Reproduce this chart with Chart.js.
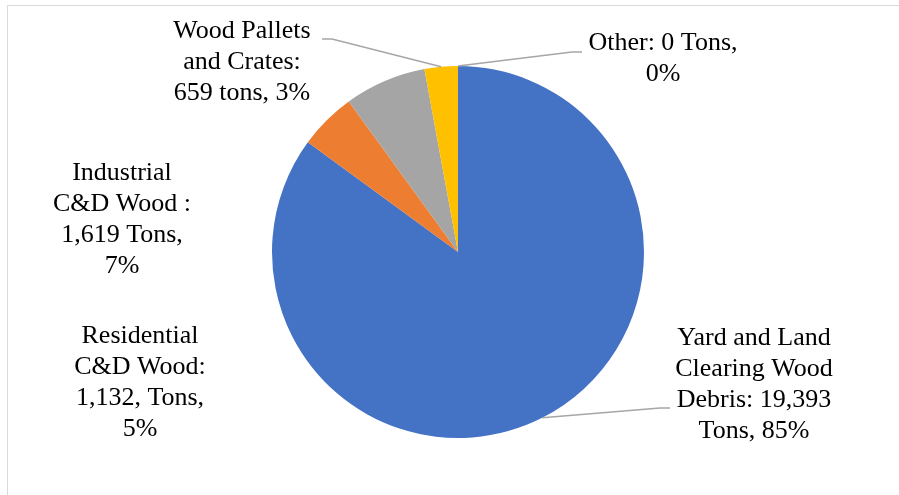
<!DOCTYPE html>
<html>
<head>
<meta charset="utf-8">
<script src="https://cdn.jsdelivr.net/npm/chart.js@4/dist/chart.umd.min.js"></script>
<style>
html, body { margin: 0; padding: 0; background: #ffffff; }
#wrap { position: relative; width: 899px; height: 495px; }
</style>
</head>
<body>
<div id="wrap"><canvas id="woodPie"></canvas></div>
<script>

// ================= WOOD WASTE BY SOURCE =================

const categories = [
  "Yard and Land Clearing Wood Debris",
  "Residential C&D Wood",
  "Industrial C&D Wood",
  "Wood Pallets and Crates",
  "Other"
];

const tons = [19393, 1132, 1619, 659, 0];

const sliceColors = ["#4472C4", "#ED7D31", "#A5A5A5", "#FFC000", "#5B9BD5"];

// label text, one array of lines per slice
const labelLines = [
  ["Yard and Land", "Clearing Wood", "Debris: 19,393", "Tons, 85%"],
  ["Residential", "C&D Wood:", "1,132, Tons,", "5%"],
  ["Industrial", "C&D Wood :", "1,619 Tons,", "7%"],
  ["Wood Pallets", "and Crates:", "659 tons, 3%"],
  ["Other: 0 Tons,", "0%"]
];

// where each label block sits (center x, first line y) and whether it gets a leader
const labelSpots = [
  { x: 754, y: 338, lead: { x: 670, y: 408 } },
  { x: 140, y: 336, lead: null },
  { x: 122, y: 173, lead: null },
  { x: 242, y: 31,  lead: { x: 322, y: 39 } },
  { x: 663, y: 43,  lead: { x: 582, y: 52 } }
];

const lineGap = 31;


const labelPlugin = {
  id: "sliceLabels",
  beforeDraw(chart) {
    const ctx = chart.ctx;
    ctx.save();
    ctx.strokeStyle = "#D9D9D9";
    ctx.lineWidth = 1;
    ctx.strokeRect(7.5, 5.5, 1000, 1000);
    ctx.restore();
  },
  afterDraw(chart) {
    const ctx = chart.ctx;
    const arcs = chart.getDatasetMeta(0).data;
    ctx.save();

    // leader lines from the middle of each slice's rim
    ctx.strokeStyle = "#A6A6A6";
    ctx.lineWidth = 1.5;
    labelSpots.forEach((spot, i) => {
      if (!spot.lead) return;
      const a = arcs[i];
      const mid = (a.startAngle + a.endAngle) / 2;
      const px = a.x + Math.cos(mid) * a.outerRadius;
      const py = a.y + Math.sin(mid) * a.outerRadius;
      const dir = spot.lead.x < px ? 1 : -1;
      ctx.beginPath();
      ctx.moveTo(spot.lead.x, spot.lead.y);
      ctx.lineTo(spot.lead.x + dir * 10, spot.lead.y);
      ctx.lineTo(px, py);
      ctx.stroke();
    });

    ctx.fillStyle = "#000000";
    ctx.font = "26px 'Liberation Serif', 'Times New Roman', serif";
    ctx.textAlign = "center";
    ctx.textBaseline = "middle";
    labelSpots.forEach((spot, i) => {
      labelLines[i].forEach((line, k) => {
        ctx.fillText(line, spot.x, spot.y + k * lineGap);
      });
    });
    ctx.restore();
  }
};


new Chart(document.getElementById("woodPie"), {

  type: "pie",

  data: {
    labels: categories,
    datasets: [{
      data: tons,
      backgroundColor: sliceColors,
      borderWidth: 0
    }]
  },

  options: {
    responsive: true,
    maintainAspectRatio: false,
    animation: false,
    layout: {
      padding: { left: 272, right: 255, top: 66, bottom: 57 }
    },
    plugins: {
      legend: { display: false },
      tooltip: { enabled: false }
    }
  },

  plugins: [labelPlugin]

});

</script>
</body>
</html>
